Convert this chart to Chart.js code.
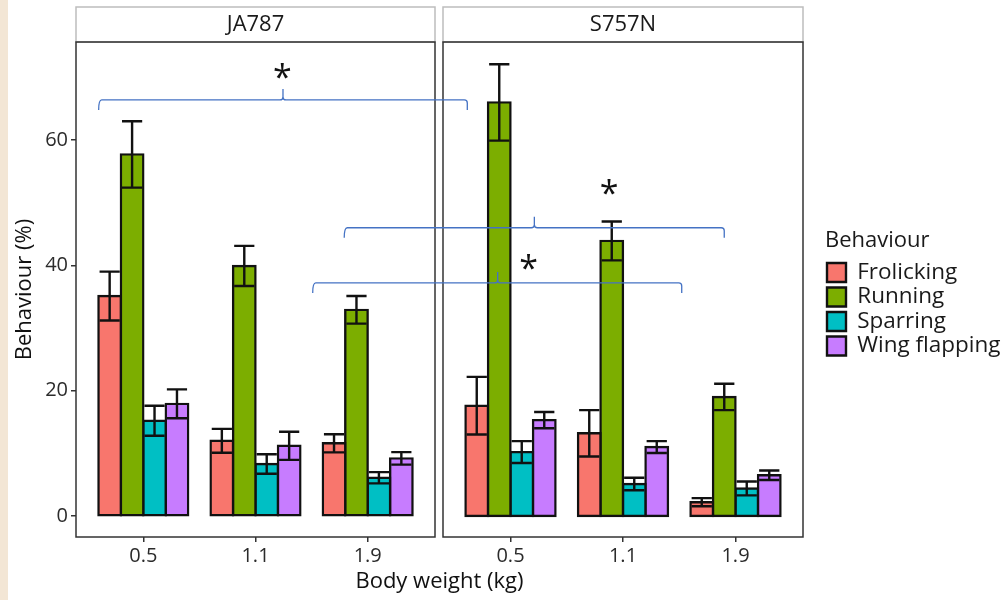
<!DOCTYPE html>
<html>
<head>
<meta charset="utf-8">
<script src="https://cdn.jsdelivr.net/npm/chart.js@4.4.1/dist/chart.umd.min.js"></script>
<style>
  html, body { margin: 0; padding: 0; background: #fff; }
  #wrap { position: relative; width: 1006px; height: 600px; overflow: hidden; }
  #wrap canvas { position: absolute; left: 0; top: 0; }
  #edge { position: absolute; left: 0; top: 0; width: 8px; height: 600px; background: #f3e6d5; }
</style>
</head>
<body>
<div id="wrap">
  <div id="edge"></div>
  <canvas id="panelA" width="1006" height="600"></canvas>
  <canvas id="panelB" width="1006" height="600"></canvas>
</div>
<script>
// categories
const weights = ['0.5', '1.1', '1.9'];
const weightPos = [0, 1, 2];
const behaviours = ['Frolicking', 'Running', 'Sparring', 'Wing flapping'];
const behaviourColors = ['#F8766D', '#7CAE00', '#00BFC4', '#C77CFF'];
const yTicks = [0, 20, 40, 60];

// JA787 (mean %, standard error) per body weight
const jaFrolicking = [35.1, 12.0, 11.6], jaFrolickingErr = [3.9, 1.9, 1.45];
const jaRunning = [57.7, 39.9, 32.9],    jaRunningErr = [5.3, 3.2, 2.2];
const jaSparring = [15.2, 8.3, 6.1],     jaSparringErr = [2.4, 1.55, 0.9];
const jaWing = [17.9, 11.2, 9.2],        jaWingErr = [2.3, 2.25, 1.0];

// S757N
const sFrolicking = [17.6, 13.2, 2.2],   sFrolickingErr = [4.6, 3.7, 0.65];
const sRunning = [66.0, 43.9, 19.0],     sRunningErr = [6.1, 3.1, 2.1];
const sSparring = [10.2, 5.1, 4.4],      sSparringErr = [1.75, 1.0, 1.1];
const sWing = [15.3, 11.0, 6.5],         sWingErr = [1.3, 0.95, 0.75];

// significance brackets: [panel, x] ends, peak, height, star
const bracketLeft = [[0, -0.398], [0, 1.791], [0, 1.510]];
const bracketRight = [[1, -0.384], [1, 1.900], [1, 1.522]];
const bracketPeak = [[0, 1.245], [1, 0.212], [1, -0.114]];
const bracketLevel = [66.4, 46.0, 37.2];
const starAt = [[0, 1.24, 70.8], [1, 0.876, 52.3], [1, 0.162, 40.4]];

Chart.defaults.font.family = "'Open Sans', sans-serif";
Chart.defaults.animation = false;

function makeSets(means, errs) {
  return behaviours.map((name, i) => ({
    label: name,
    data: weightPos.map((x, j) => ({ x: x, y: means[i][j] })),
    err: errs[i],
    backgroundColor: behaviourColors[i],
    borderColor: '#111',
    borderWidth: 2.4,
    inflateAmount: 1.2,
    borderSkipped: false,
    categoryPercentage: 0.8,
    barPercentage: 1.0
  }));
}

// error bars on top of the bars
const errorBars = {
  id: 'errorBars',
  afterDatasetsDraw(chart) {
    const { ctx } = chart;
    const y = chart.scales.y;
    ctx.save();
    ctx.strokeStyle = '#111';
    ctx.lineWidth = 2.4;
    chart.data.datasets.forEach((ds, i) => {
      chart.getDatasetMeta(i).data.forEach((bar, j) => {
        const v = ds.data[j].y, e = ds.err[j];
        const top = y.getPixelForValue(v + e), bot = y.getPixelForValue(v - e);
        const half = bar.width * 0.45;
        ctx.beginPath();
        ctx.moveTo(bar.x, top); ctx.lineTo(bar.x, bot);
        ctx.moveTo(bar.x - half, top); ctx.lineTo(bar.x + half, top);
        ctx.moveTo(bar.x - half, bot); ctx.lineTo(bar.x + half, bot);
        ctx.stroke();
      });
    });
    ctx.restore();
  }
};

// panel frame and strip label, ggplot facet style
const facet = {
  id: 'facet',
  afterDraw(chart, args, opts) {
    const { ctx, chartArea: a } = chart;
    const stripTop = a.top - 35;
    ctx.save();
    ctx.fillStyle = '#fff';
    ctx.fillRect(a.left, stripTop, a.width, a.top - stripTop);
    ctx.strokeStyle = '#bdbdbd';
    ctx.lineWidth = 1.5;
    ctx.strokeRect(a.left, stripTop, a.width, a.top - stripTop);
    ctx.strokeStyle = '#333';
    ctx.strokeRect(a.left, a.top, a.width, a.height);
    ctx.fillStyle = '#1a1a1a';
    ctx.font = "22px 'Open Sans'";
    ctx.textAlign = 'center';
    ctx.textBaseline = 'middle';
    ctx.fillText(opts.label, (a.left + a.right) / 2, (stripTop + a.top) / 2);
    ctx.restore();
  }
};

function xScale() {
  return {
    type: 'linear',
    min: -0.6,
    max: 2.6,
    offset: false,
    afterBuildTicks: s => { s.ticks = weightPos.map(v => ({ value: v })); },
    afterFit: s => { s.height = 63; },
    border: { display: false },
    grid: { offset: false, drawOnChartArea: false, tickLength: 5, color: '#333', lineWidth: 1.5 },
    ticks: {
      callback: (v, i) => weights[i],
      autoSkip: false, maxRotation: 0, padding: 2,
      color: '#2b2b2b', font: { size: 20 }
    }
  };
}

function yScale(show) {
  return {
    display: show,
    min: -3.35,
    max: 75.64,
    afterBuildTicks: s => { s.ticks = yTicks.map(v => ({ value: v })); },
    afterFit: s => { s.width = show ? 76 : 0; },
    border: { display: false },
    grid: { drawOnChartArea: false, tickLength: 5, color: '#333', lineWidth: 1.5 },
    ticks: { padding: 3, color: '#2b2b2b', font: { size: 20 } },
    title: {
      display: true, text: 'Behaviour (%)', color: '#111',
      font: { size: 22 }, padding: { top: 12, bottom: 0 }
    }
  };
}

const chartA = new Chart(document.getElementById('panelA'), {
  type: 'bar',
  data: {
    datasets: makeSets(
      [jaFrolicking, jaRunning, jaSparring, jaWing],
      [jaFrolickingErr, jaRunningErr, jaSparringErr, jaWingErr])
  },
  options: {
    responsive: false,
    layout: { padding: { top: 42, right: 571, left: 0, bottom: 0 } },
    plugins: {
      legend: { display: false },
      tooltip: { enabled: false },
      facet: { label: 'JA787' }
    },
    scales: { x: xScale(), y: yScale(true) }
  },
  plugins: [errorBars, facet]
});

// move the legend box to the right of the second panel
const legendSpot = {
  id: 'legendSpot',
  afterLayout(chart) {
    const lg = chart.legend, a = chart.chartArea;
    const w = lg.width;
    lg.left = a.right + 22;
    lg.right = lg.left + w;
    lg.top = a.top + 5;
    lg.bottom = a.bottom + 5;
    lg.height = a.height;
  }
};

// brackets, stars and shared x title, drawn over both panels
const overlay = {
  id: 'overlay',
  afterDraw(chart) {
    const { ctx } = chart;
    const panels = [chartA, chart];
    const px = p => panels[p[0]].scales.x.getPixelForValue(p[1]);
    const py = v => chart.scales.y.getPixelForValue(v);
    const drop = 10, rise = 11, r = 3;
    ctx.save();
    ctx.strokeStyle = '#4472C4';
    ctx.lineWidth = 1.3;
    bracketLevel.forEach((lvl, i) => {
      const xl = px(bracketLeft[i]), xr = px(bracketRight[i]), xm = px(bracketPeak[i]);
      const yy = py(lvl);
      ctx.beginPath();
      ctx.moveTo(xl, yy + drop);
      ctx.quadraticCurveTo(xl, yy, xl + r, yy);
      ctx.lineTo(xm - r, yy);
      ctx.quadraticCurveTo(xm, yy, xm, yy - r);
      ctx.lineTo(xm, yy - rise);
      ctx.moveTo(xm, yy - r);
      ctx.quadraticCurveTo(xm, yy, xm + r, yy);
      ctx.lineTo(xr - r, yy);
      ctx.quadraticCurveTo(xr, yy, xr, yy + r);
      ctx.lineTo(xr, yy + drop);
      ctx.stroke();
    });
    ctx.fillStyle = '#111';
    ctx.font = "34px 'Open Sans'";
    ctx.textAlign = 'center';
    ctx.textBaseline = 'alphabetic';
    starAt.forEach(s => {
      ctx.fillText('*', px(s), py(s[2]) + 17);
    });
    ctx.font = "22px 'Open Sans'";
    ctx.textBaseline = 'middle';
    ctx.fillText('Body weight (kg)',
      (chartA.chartArea.left + chart.chartArea.right) / 2, chart.chartArea.bottom + 45);
    ctx.restore();
  }
};

const chartB = new Chart(document.getElementById('panelB'), {
  type: 'bar',
  data: {
    datasets: makeSets(
      [sFrolicking, sRunning, sSparring, sWing],
      [sFrolickingErr, sRunningErr, sSparringErr, sWingErr])
  },
  options: {
    responsive: false,
    layout: { padding: { top: 42, right: 203, left: 443, bottom: 0 } },
    plugins: {
      legend: {
        position: 'chartArea',
        align: 'center',
        title: {
          display: true, text: 'Behaviour', position: 'start', color: '#1a1a1a',
          font: { size: 22 }, padding: { top: 0, bottom: 3 }
        },
        labels: {
          boxWidth: 19, boxHeight: 19, padding: 2,
          color: '#1a1a1a', font: { size: 22.5 }
        }
      },
      tooltip: { enabled: false },
      facet: { label: 'S757N' }
    },
    scales: { x: xScale(), y: yScale(false) }
  },
  plugins: [errorBars, facet, legendSpot, overlay]
});
</script>
</body>
</html>
